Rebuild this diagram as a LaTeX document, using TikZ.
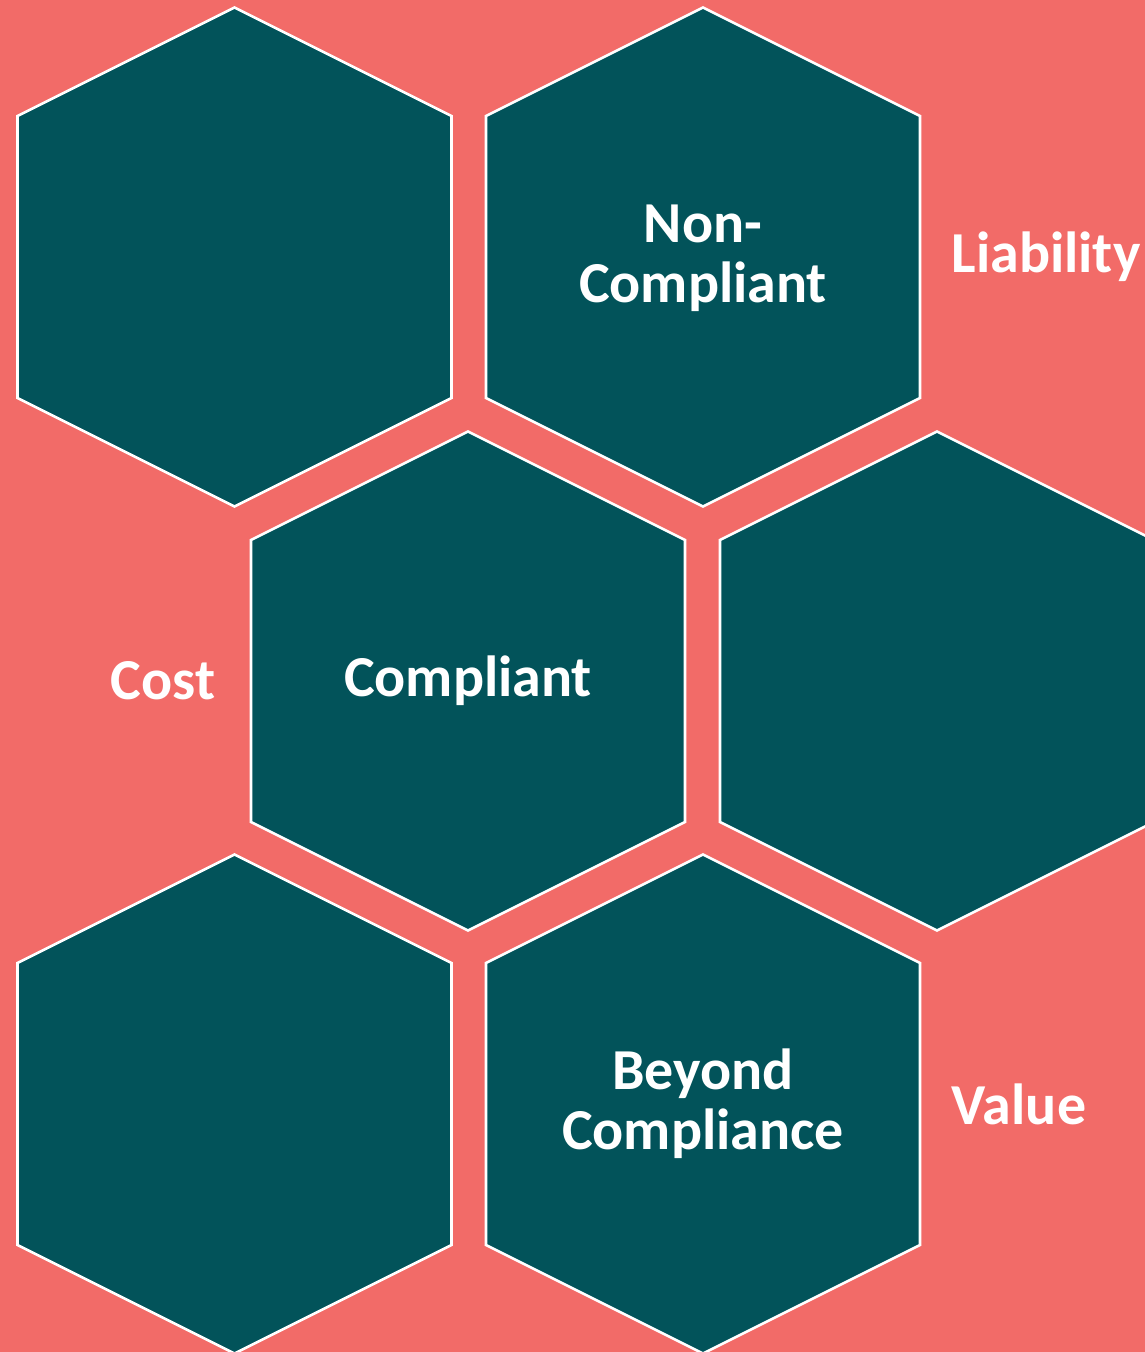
\documentclass[tikz,border=0pt]{standalone}
\usepackage{fontspec}
\setmainfont{Carlito}
\definecolor{coral}{HTML}{F26B68}
\definecolor{deepteal}{HTML}{02535A}
\tikzset{
  hexcell/.style={fill=deepteal, draw=white, line width=1.5pt, line join=miter},
  celltext/.style={text=white, font=\bfseries\fontsize{33}{34}\selectfont, align=center}
}

\begin{document}
\begin{tikzpicture}[x=0.02cm, y=-0.02cm]
    \useasboundingbox (0,0) rectangle (1145,1352);
    \fill[coral] (0,0) rectangle (1145,1352);

    % honeycomb
    \foreach \cx/\cy in {234.5/257, 703/257, 468/681, 937/681, 234.5/1104, 703/1104}
      \draw[hexcell] (\cx,\cy-249.5) -- (\cx+217,\cy-141) -- (\cx+217,\cy+141)
        -- (\cx,\cy+249.5) -- (\cx-217,\cy+141) -- (\cx-217,\cy-141) -- cycle;

    \node[celltext] (noncomp) at (703,258) {Non-\\Compliant};
    \node[celltext] (comp) at (468,681) {Compliant};
    \node[celltext] (beyond) at (703,1104) {Beyond\\Compliance};

    \node[celltext] (liab) at (1046,257) {Liability};
    \node[celltext] (cost) at (163,681) {Cost};
    \node[celltext] (value) at (1019,1104) {Value};
\end{tikzpicture}
\end{document}
